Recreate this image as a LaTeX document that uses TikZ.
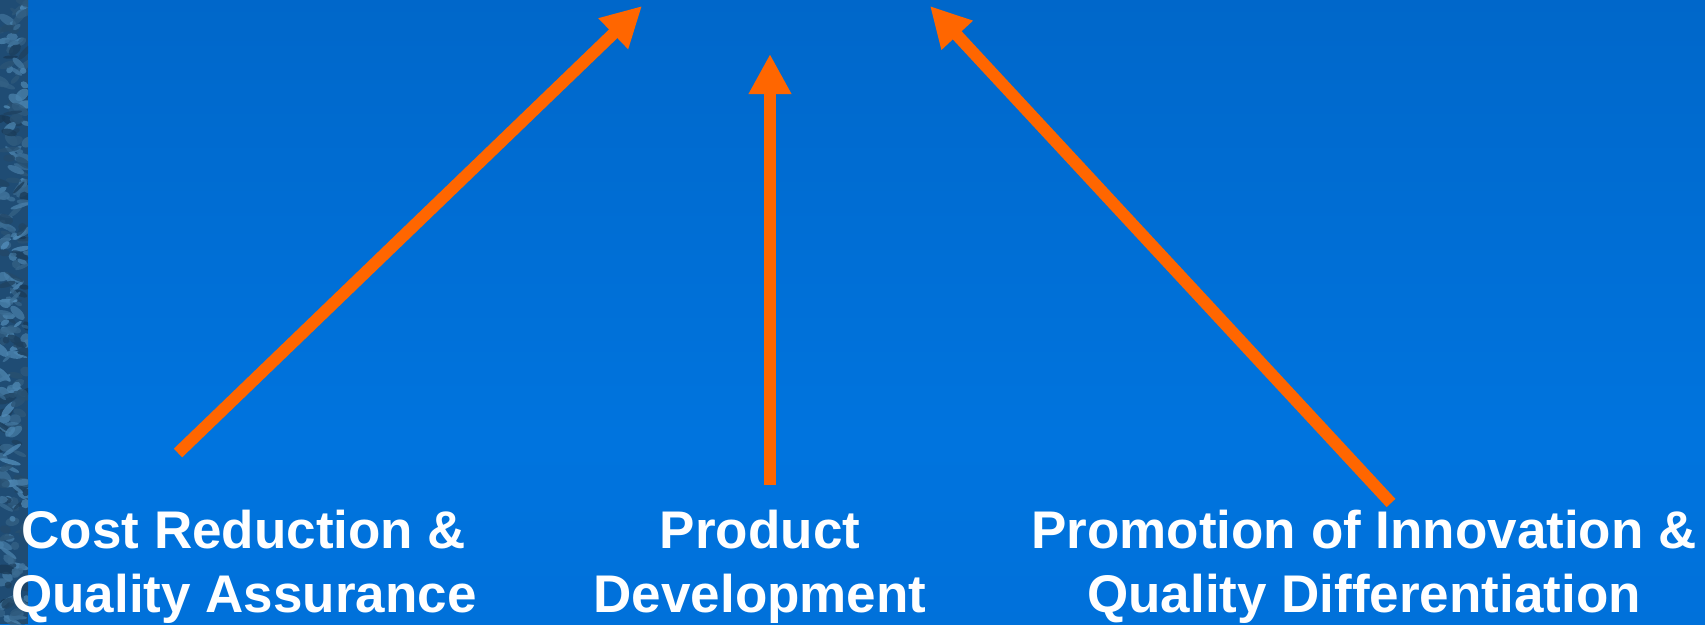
\documentclass[tikz,border=0pt]{standalone}
\usepackage{fontspec}
\setmainfont{Liberation Sans}
\usetikzlibrary{arrows.meta}

\definecolor{bgtop}{HTML}{005EBB}
\definecolor{bgmid}{HTML}{0074DE}
\definecolor{bgbot}{HTML}{006BD4}
\definecolor{arroworange}{HTML}{FF6600}
\definecolor{stripdark}{HTML}{0E2A44}
\definecolor{stripmid}{HTML}{1F4C74}
\definecolor{striplight}{HTML}{5E9FCF}

\pgfdeclareverticalshading{bgshade}{100bp}{color(0bp)=(bgbot); color(40bp)=(bgmid); color(100bp)=(bgtop)}

\tikzset{
  lbl/.style={text=white, font=\fontsize{53}{64}\selectfont\bfseries,
              align=center, inner sep=0pt, anchor=base},
  growth/.style={draw=arroworange, line width=12pt, line cap=butt,
                 -{Triangle[length=40pt,width=40pt]}},
}

\begin{document}
\begin{tikzpicture}[x=1pt,y=-1pt]
  \useasboundingbox (0,0) rectangle (1705,624);
  % backdrop
  \shade[shading=bgshade] (0,0) rectangle (1705,624);

  % textured strip at the left edge
  \begin{scope}
    \clip (0,0) rectangle (28,624);
    \fill[stripmid] (0,0) rectangle (28,624);
    \pgfmathsetseed{7}
    \foreach \k in {1,...,260}{
      \pgfmathsetmacro{\px}{rnd*28}
      \pgfmathsetmacro{\py}{rnd*624}
      \pgfmathsetmacro{\rx}{3+rnd*8}
      \pgfmathsetmacro{\ry}{1.5+rnd*3.5}
      \pgfmathsetmacro{\ang}{-50+rnd*100}
      \pgfmathtruncatemacro{\mix}{10+rnd*75}
      \fill[striplight!\mix!stripdark, opacity=0.8, rotate around={\ang:(\px,\py)}]
        (\px,\py) ellipse ({\rx pt} and {\ry pt});
    }
  \end{scope}

  % labels (anchored on the baseline of their second line)
  \node[lbl] (cost)  at (244,612)  {Cost Reduction \&\\Quality Assurance};
  \node[lbl] (prod)  at (760,612)  {Product\\Development};
  \node[lbl] (promo) at (1364,612) {Promotion of Innovation \&\\Quality Differentiation};

  % arrow ends
  \coordinate (costtail)  at (178,453);
  \coordinate (costtip)   at (642,6);
  \coordinate (prodtail)  at (770,485);
  \coordinate (prodtip)   at (770,54);
  \coordinate (promotail) at (1391,503);
  \coordinate (promotip)  at (930,6);

  \draw[growth] (costtail)  -- (costtip);
  \draw[growth] (prodtail)  -- (prodtip);
  \draw[growth] (promotail) -- (promotip);
\end{tikzpicture}
\end{document}
